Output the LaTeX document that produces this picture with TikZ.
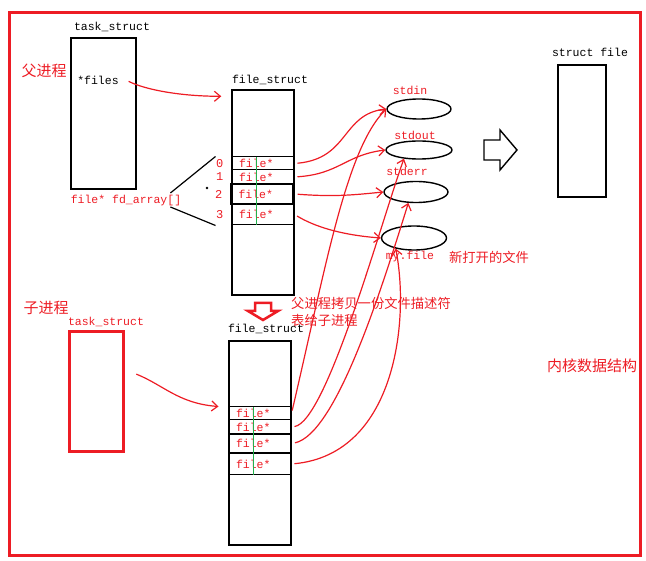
\documentclass[tikz,border=0pt]{standalone}
\usepackage{fontspec}
\setmonofont{Liberation Mono}
\newfontfamily\cjk{Noto Sans CJK SC}
\usetikzlibrary{shapes.geometric,positioning,arrows.meta}

\definecolor{paintred}{RGB}{237,28,36}
\definecolor{paintgreen}{RGB}{34,177,76}
\newcommand\codefont{\ttfamily\fontsize{11.5}{13}\selectfont}

\tikzset{
    >={Straight Barb[length=6pt,width=10pt]},
    box/.style={draw, line width=1.4pt, inner sep=0pt},
    row/.style={draw, line width=1pt, inner xsep=7pt, inner ysep=0pt,
        text width=48pt, align=left, text=paintred, font=\codefont},
    ell/.style={ellipse, draw, line width=1.4pt, inner sep=0pt},
    code/.style={font=\codefont, inner sep=1pt},
    redcode/.style={code, text=paintred},
    num/.style={font=\ttfamily\fontsize{12}{13}\selectfont, text=paintred, inner sep=1pt},
    cjkbig/.style={font=\cjk\fontsize{15}{17}\selectfont, text=paintred, inner sep=1pt},
    cjksmall/.style={font=\cjk\fontsize{13.3}{17}\selectfont, text=paintred, inner sep=2pt},
    link/.style={->, paintred, line width=1.2pt, shorten <=3pt}
}

\begin{document}
\begin{tikzpicture}[x=1pt, y=-1pt]
    \useasboundingbox (0,0) rectangle (646,561);

% kernel frame
    \draw[paintred, line width=3pt] (9.5,12.5) rectangle (640.5,555);
    \node[cjkbig] (kernel) at (592,366) {内核数据结构};

% parent process
    \node[cjkbig] (pname) at (44,71) {父进程};
    \node[code] (ptasklbl) at (112,27) {task\_struct};
    \node[box, minimum width=65pt, minimum height=151pt] (ptask) at (103.5,113.5) {};
    \node[code] (pfiles) at (98,80) {*files};
    \node[redcode] (fdarr) at (126,201) {file* fd\_array[]};

% parent file_struct
    \node[code] (pfslbl) at (270,80) {file\_struct};
    \node[box, minimum width=62pt, minimum height=205pt] (pfs) at (263,192.5) {};
    \node[row, minimum height=13pt] (p0) at (263,163.5) {file*};
    \node[row, minimum height=14pt] (p1) at (263,177) {file*};
    \node[row, minimum height=20pt, line width=2.2pt] (p2) at (262.5,194) {file*};
    \node[row, minimum height=21pt] (p3) at (263,214.5) {file*};
    \draw[paintgreen, line width=0.8pt] (256,157) -- (256,225);
% indices
    \node[num, left=7pt of p0] (n0) {0};
    \node[num, left=7pt of p1] (n1) {1};
    \node[num, left=7pt of p2] (n2) {2};
    \node[num, left=7pt of p3] (n3) {3};
    \draw[line width=1.2pt] ([shift={(-12,-8)}]fdarr.east) -- ([xshift=-16pt]p0.north west);
    \draw[line width=1.2pt] ([shift={(-12,6)}]fdarr.east) -- ([xshift=-16pt]p3.south west);
    \fill (207,188) circle (1.3pt);

    \draw[link] ([xshift=6pt]pfiles.east) .. controls +(20,10) and +(-40,0) .. ([shift={(-10,7)}]pfs.north west);

% open files
    \node[redcode] (stdinlbl) at (410,90) {stdin};
    \node[ell, minimum width=64pt, minimum height=20pt] (stdin) at (419,109) {};
    \node[redcode] (stdoutlbl) at (415,135) {stdout};
    \node[ell, minimum width=66pt, minimum height=18pt] (stdout) at (419,150) {};
    \node[redcode] (stderrlbl) at (407,171) {stderr};
    \node[ell, minimum width=64pt, minimum height=21pt] (stderr) at (416,192) {};
    \node[ell, minimum width=65pt, minimum height=24pt] (myfile) at (414,238) {};
    \node[redcode] (myfilelbl) at (410,257) {my.file};
    \node[cjksmall] (newlbl) at (489,257) {新打开的文件};

% struct file
    \draw[line width=1.4pt] (484,140) -- (500,140) -- (500,130) -- (517,150)
        -- (500,170) -- (500,160) -- (484,160) -- cycle;
    \node[code] (sfilelbl) at (590,52) {struct file};
    \node[box, minimum width=48pt, minimum height=132pt] (sfile) at (582,131) {};

% parent fd -> file
    \draw[link] (p0.east) .. controls +(55,-5) and +(-45,5) .. (stdin.west);
    \draw[link] (p1.east) .. controls +(45,-3) and +(-40,5) .. (stdout.west);
    \draw[link] (p2.east) .. controls +(40,3) and +(-30,3) .. (stderr.west);
    \draw[link] (p3.east) .. controls +(20,12) and +(-40,-3) .. (myfile.west);

% child process
    \node[cjkbig] (cname) at (46,308) {子进程};
    \node[redcode] (ctasklbl) at (106,322) {task\_struct};
    \node[box, draw=paintred, line width=3pt, minimum width=54pt, minimum height=120pt] (ctask) at (96,392) {};

% copy
    \draw[paintred, line width=2.5pt] (255,303) -- (271,303) -- (271,311) -- (278,311)
        -- (263,320) -- (248,311) -- (255,311) -- cycle;
    \node[cjksmall, anchor=west, align=left] (note) at (289,311.5) {父进程拷贝一份文件描述符\\表给子进程};

% child file_struct
    \node[code] (cfslbl) at (266,329) {file\_struct};
    \node[box, minimum width=62pt, minimum height=204pt] (cfs) at (260,443) {};
    \node[row, minimum height=13pt] (c0) at (260,413.5) {file*};
    \node[row, minimum height=14pt] (c1) at (260,427) {file*};
    \node[row, minimum height=19pt, line width=2.2pt] (c2) at (260,443.5) {file*};
    \node[row, minimum height=22pt] (c3) at (260,464) {file*};
    \draw[paintgreen, line width=0.8pt] (253,407) -- (253,475);

    \draw[link] ([shift={(9,-19)}]ctask.east) .. controls +(30,12) and +(-40,-3) .. ([xshift=-10pt]c0.north west);

% child fd -> file
    \draw[link] (c0.east) .. controls +(35,-150) and +(-40,40) .. (stdin.west);
    \draw[link] (c1.east) .. controls +(35,-5) and +(-23,64) .. (stdout.210);
    \draw[link] (c2.east) .. controls +(45,-10) and +(-25,80) .. (stderr.235);
    \draw[link] (c3.east) .. controls +(105,-10) and +(14,70) .. (myfile.210);
\end{tikzpicture}
\end{document}
